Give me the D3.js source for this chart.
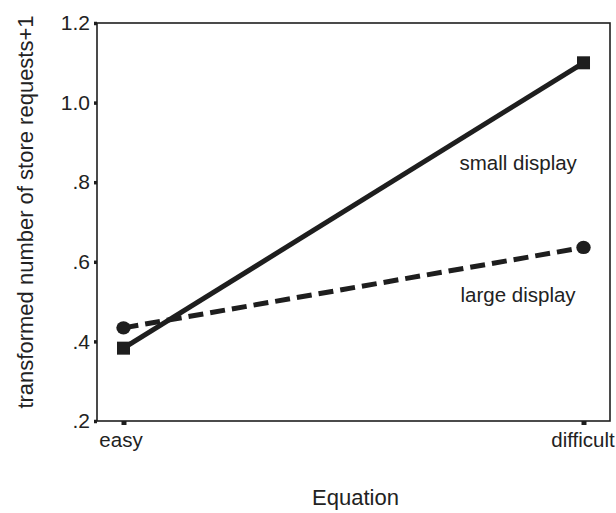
<!DOCTYPE html>
<html>
<head>
<meta charset="utf-8">
<script src="https://cdn.jsdelivr.net/npm/d3@7"></script>
<style>
  html, body { margin: 0; padding: 0; background: #fff; }
  svg { display: block; }
  text { font-family: "Liberation Sans", Arial, Helvetica, sans-serif; fill: #222; }
</style>
</head>
<body>
<svg id="chart" width="616" height="513"></svg>
<script>
// ---- data ----
const categories = ["easy", "difficult"];
const smallDisplay = [0.383, 1.10];
const largeDisplay = [0.434, 0.636];
const yTickValues = [1.2, 1.0, 0.8, 0.6, 0.4, 0.2];
const yTickLabels = ["1.2", "1.0", ".8", ".6", ".4", ".2"];
const seriesLabels = ["small display", "large display"];
const xTitle = "Equation";
const yTitle = "transformed number of store requests+1";

// ---- layout ----
const W = 616, H = 513;
const margin = { top: 23, right: 6, bottom: 92, left: 97 };
const iw = W - margin.left - margin.right;
const ih = H - margin.top - margin.bottom;
const ink = "#1e1e1e";

const svg = d3.select("#chart");
const g = svg.append("g").attr("transform", `translate(${margin.left},${margin.top})`);

const x = d3.scalePoint().domain(categories).range([0, iw]).padding(0.0576);
const y = d3.scaleLinear().domain([0.2, 1.2]).range([ih, 0]);

// frame
g.append("rect").attr("x", 0).attr("y", 0).attr("width", iw).attr("height", ih)
  .attr("fill", "none").attr("stroke", ink).attr("stroke-width", 1.6);

// y axis
const yAxis = g.append("g").call(
  d3.axisLeft(y).tickValues(yTickValues)
    .tickFormat((d, i) => yTickLabels[i]).tickSize(3).tickPadding(4)
);
yAxis.select(".domain").remove();
yAxis.selectAll(".tick line").attr("stroke", ink).attr("stroke-width", 3.5);
yAxis.selectAll(".tick text").attr("font-size", 21).attr("fill", "#222")
  .attr("font-family", "Liberation Sans, Arial, sans-serif");

// x axis
const xAxis = g.append("g").attr("transform", `translate(0,${ih})`).call(
  d3.axisBottom(x).tickSize(4).tickPadding(7)
);
xAxis.select(".domain").remove();
xAxis.selectAll(".tick line").attr("stroke", ink).attr("stroke-width", 5);
xAxis.selectAll(".tick text").attr("font-size", 20.5).attr("fill", "#222")
  .attr("font-family", "Liberation Sans, Arial, sans-serif")
  .attr("dx", (d, i) => i === categories.length - 1 ? -1 : -3);

// lines
const line = d3.line().x((d, i) => x(categories[i])).y(d => y(d));
g.append("path").datum(smallDisplay).attr("d", line)
  .attr("fill", "none").attr("stroke", ink).attr("stroke-width", 5);
g.append("path").datum(largeDisplay).attr("d", line)
  .attr("fill", "none").attr("stroke", ink).attr("stroke-width", 5)
  .attr("stroke-dasharray", "15,7");

// markers
const sq = 13;
g.selectAll("rect.sq").data(smallDisplay).enter().append("rect")
  .attr("class", "sq")
  .attr("x", (d, i) => x(categories[i]) - sq / 2)
  .attr("y", d => y(d) - sq / 2)
  .attr("width", sq).attr("height", sq).attr("fill", ink);
g.selectAll("ellipse.ci").data(largeDisplay).enter().append("ellipse")
  .attr("class", "ci")
  .attr("cx", (d, i) => x(categories[i]))
  .attr("cy", d => y(d))
  .attr("rx", 7.2).attr("ry", 6.6).attr("fill", ink);

// series labels
g.append("text").attr("x", x("difficult") - 124).attr("y", y(0.83))
  .attr("font-size", 20.5).text(seriesLabels[0]);
g.append("text").attr("x", x("difficult") - 123).attr("y", y(0.50))
  .attr("font-size", 20.5).text(seriesLabels[1]);

// axis titles
svg.append("text").attr("x", margin.left + iw / 2 + 2).attr("y", 505)
  .attr("text-anchor", "middle").attr("font-size", 22).text(xTitle);
svg.append("text")
  .attr("transform", `translate(33,${margin.top + ih / 2 - 10}) rotate(-90)`)
  .attr("text-anchor", "middle").attr("font-size", 22).text(yTitle);
</script>
</body>
</html>
